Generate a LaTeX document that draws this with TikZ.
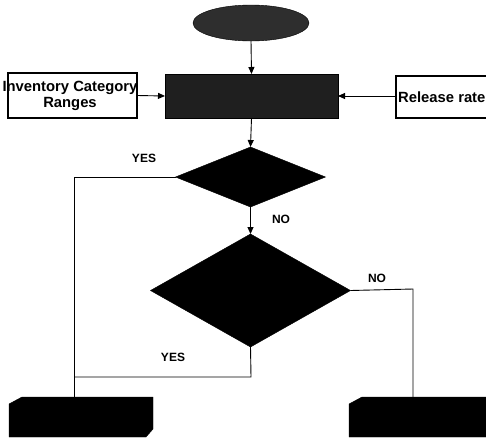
\documentclass[tikz,border=0pt]{standalone}
\usepackage{fontspec}
\setmainfont{Liberation Sans}
\usetikzlibrary{shapes.geometric,arrows.meta}
\tikzset{
  conn/.style={line width=0.9pt,draw=black},
  arr/.style={conn,-{Triangle[length=7pt,width=6pt]}},
  inbox/.style={draw=black,line width=1.2pt,fill=white,inner sep=0pt,outer sep=0pt,rectangle},
  dec/.style={diamond,fill=black,draw=black,inner sep=0pt,outer sep=0pt},
  lab/.style={font=\bfseries\fontsize{12}{12}\selectfont,inner sep=0pt},
  boxtxt/.style={font=\bfseries\fontsize{14.8}{16.5}\selectfont,inner sep=0pt,align=center},
  termfill/.style={fill=black,draw=black}
}
\begin{document}
\begin{tikzpicture}[x=1pt,y=-1pt]
\clip (0,0) rectangle (486,437);
\fill[white] (0,0) rectangle (486,437);
% start ellipse
\node[ellipse,fill=black!82,draw=black,minimum width=116pt,minimum height=36pt,inner sep=0pt,outer sep=0pt] (start) at (251,23) {};
% process rectangle
\node[rectangle,fill=black!88,draw=black,line width=1pt,minimum width=173pt,minimum height=44pt,inner sep=0pt,outer sep=0pt] (proc) at (251.5,96) {};
% input boxes
\node[inbox,minimum width=129pt,minimum height=45pt] (inv) at (72.5,95.5) {};
\node[boxtxt] (invt) at (70,96) {Inventory Category\\Ranges};
\node[inbox,minimum width=100pt,minimum height=42pt] (rel) at (446,97) {};
\node[boxtxt,anchor=west] (relt) at (398,97) {Release rate};
% decisions
\node[dec,minimum width=150pt,minimum height=60pt] (d1) at (250.5,177) {};
\node[dec,minimum width=200pt,minimum height=113pt] (d2) at (250.5,290.5) {};
% terminal boxes
\path[termfill] (9,404) -- (22,397) -- (153,397) -- (153,429) -- (146,437) -- (9,437) -- cycle;
\path[termfill] (349,404) -- (362,397) -- (490,397) -- (490,437) -- (349,437) -- cycle;
\coordinate (tl) at (74,397);
\coordinate (tr) at (413,397);
\coordinate (c1) at (74,177);
\coordinate (c2) at (74,377);
\coordinate (c3) at (251,377);
\coordinate (c4) at (413,289);
% connectors
\draw[arr] (start.south) -- (proc.north);
\draw[arr] (inv.east) -- (proc.west);
\draw[arr] (rel.west |- proc.east) -- (proc.east);
\draw[arr] (proc.south) -- (d1.north);
\draw[arr] (d1.south) -- (d2.north);
\draw[conn] (d1.west) -- (c1) -- (tl);
\draw[conn] (d2.south) -- (c3) -- (c2);
\draw[conn] (d2.east) -- (c4) -- (tr);
% labels
\node[lab] (yes1) at (144,158) {YES};
\node[lab] (no1) at (281,219) {NO};
\node[lab] (no2) at (377,278) {NO};
\node[lab] (yes2) at (173,357) {YES};
\end{tikzpicture}
\end{document}
